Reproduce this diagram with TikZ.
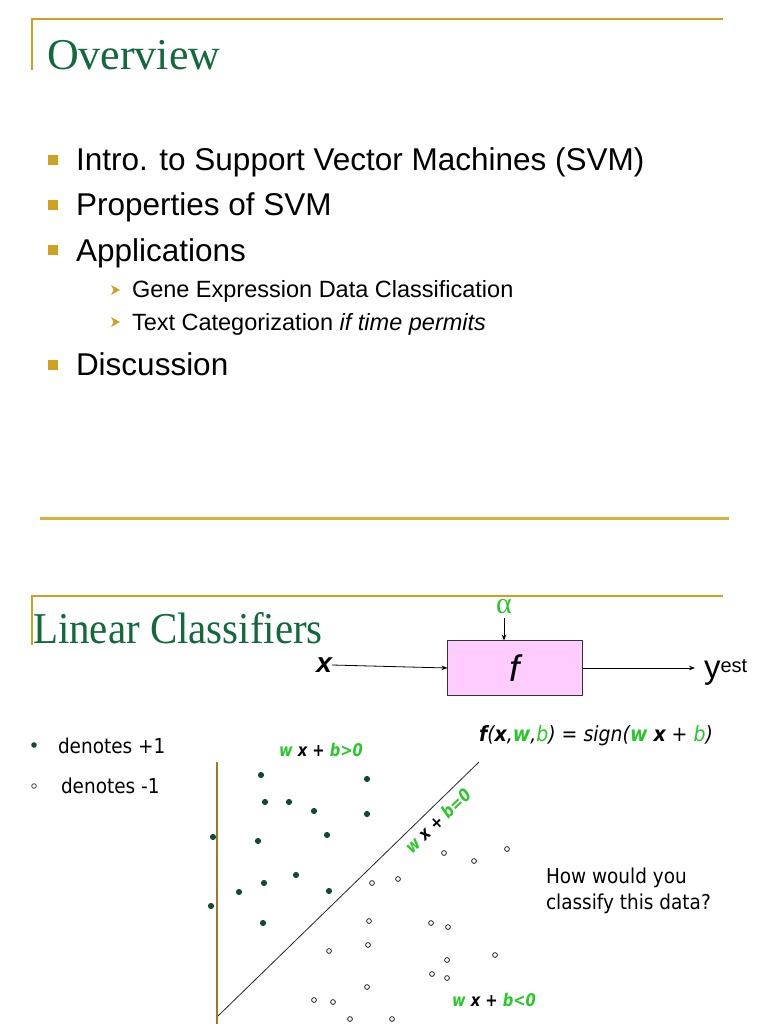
\documentclass[tikz,border=0pt]{standalone}
\usepackage{fontspec}
\setmainfont{Liberation Serif}
\newfontfamily\arial{Liberation Sans}
\newfontfamily\tah[FakeStretch=0.9]{DejaVu Sans}
\newfontfamily\tahb[FakeStretch=0.84]{DejaVu Sans}
\usetikzlibrary{arrows.meta}
\definecolor{gold}{RGB}{208,160,32}
\definecolor{sepc}{RGB}{214,178,58}
\definecolor{ttl}{RGB}{18,105,60}
\definecolor{grn}{RGB}{40,200,40}
\definecolor{dotc}{RGB}{22,72,54}
\definecolor{pinkbox}{RGB}{255,204,255}
\definecolor{brn}{RGB}{168,116,32}
\begin{document}
\begin{tikzpicture}[x=1pt,y=-1pt,
  every node/.style={inner sep=0pt,outer sep=0pt},
  ttlstyle/.style={anchor=base west,text=ttl,font=\fontsize{44}{44}\selectfont},
  bul/.style={anchor=base west,font=\arial\fontsize{31.5}{32}\selectfont},
  subbul/.style={anchor=base west,font=\arial\fontsize{23.5}{24}\selectfont},
  frameline/.style={draw=gold,line width=1.6pt},
  arr/.style={-{Stealth[length=6pt,width=4.5pt]},line width=0.8pt},
  posdot/.style={fill=dotc},
  negdot/.style={draw=black!80,line width=0.85pt,fill=white},
  lbl/.style={font=\tahb\bfseries\itshape\fontsize{17.5}{18}\selectfont},
  plaintxt/.style={anchor=base west,font=\tah\fontsize{20.5}{21}\selectfont}]
\fill[white] (0,0) rectangle (768,1024);
\useasboundingbox (0,0) rectangle (768,1024);
% ---------- slide 1 ----------
\draw[frameline] (32,70) -- (32,19) -- (723,19);
\node[ttlstyle] (ov) at (47,70) {Overview};
\foreach \yy in {160,205,250,365} {\fill[gold] (48,\yy-5) rectangle (58,\yy+5);}
\foreach \yy in {290,322} {\fill[gold] (111,\yy-5) -- (120,\yy) -- (111,\yy+5) -- (113.5,\yy) -- cycle;}
\node[bul] (b1) at (76,171) {Intro. to Support Vector Machines (SVM)};
\node[bul] (b2) at (76,216) {Properties of SVM};
\node[bul] (b3) at (76,261) {Applications};
\node[subbul] (s1) at (132,297) {Gene Expression Data Classification};
\node[subbul] (s2) at (132,330) {Text Categorization \textit{if time permits}};
\node[bul] (b4) at (76,375) {Discussion};
\draw[sepc,line width=3pt] (40,518) -- (729,518);
% ---------- slide 2 ----------
\draw[frameline] (32,645) -- (32,596) -- (723,596);
\node[ttlstyle] (lc) at (33,643) {\scalebox{0.93}[1]{Linear Classifiers}};
\node[draw=black!80,fill=pinkbox,line width=0.8pt,minimum width=135pt,minimum height=55pt] (fbox) at (515,668)
  {\arial\itshape\fontsize{37}{37}\selectfont f};
\node[anchor=east,font=\arial\bfseries\itshape\fontsize{28}{28}\selectfont] (xin) at (332,665) {x};
\node[anchor=base west,font=\arial\fontsize{33}{33}\selectfont] (yest) at (704,678)
  {y\raisebox{6pt}{\fontsize{20}{20}\selectfont est}};
\node[anchor=base,text=grn,font=\fontsize{30}{30}\selectfont] (alpha) at (504,613) {α};
\draw[arr] (xin.east) -- (fbox.west);
\draw[arr,shorten >=9pt] (fbox.east) -- (fbox.east -| yest.west);
\draw[arr,shorten <=5pt] (alpha.base) -- (alpha.base |- fbox.north);
% legend
\fill[dotc] (34,745) circle (2.8);
\node[plaintxt] (l1) at (58,753) {denotes +1};
\draw[black!75,line width=0.8pt] (34,786) circle (2.3);
\node[plaintxt] (l2) at (61,793) {denotes -1};
% plot
\draw[brn,line width=2.8pt] (217,762) -- (217,1024);
\coordinate (d0) at (218,1016);
\coordinate (d1) at (479,762);
\draw[black!85,line width=0.8pt] (d0) -- (d1);
\foreach \p in {(261,775),(367,779),(265,802),(289,802),(314,811),(367,814),(213,837),(258,841),(327,835),(296,875),(264,883),(239,892),(329,891),(211,906),(263,923)}
  {\fill[posdot] \p circle (3.1);}
\foreach \p in {(444,853),(474,861),(507,849),(372,883),(398,879),(369,921),(431,923),(448,927),(329,951),(368,945),(447,960),(495,955),(432,974),(447,978),(367,987),(314,1000),(333,1002),(350,1019),(392,1019)}
  {\draw[negdot] \p circle (2.4);}
\node[lbl] (gt) at (321,750) {\textcolor{grn}{w} x + \textcolor{grn}{b>0}};
\node[lbl] (lt) at (494,1000) {\textcolor{grn}{w} x + \textcolor{grn}{b<0}};
\node[lbl,rotate=44] (eq) at (438,821) {\textcolor{grn}{w} x + \textcolor{grn}{b=0}};
\node[font=\tah\itshape\fontsize{21}{21}\selectfont] (fx) at (596,736)
  {\textbf{f}(\textbf{x},\textcolor{grn}{\textbf{w}},\textcolor{grn}{b}) = sign(\textcolor{grn}{\textbf{w}} \textbf{x} + \textcolor{grn}{b})};
\node[plaintxt] (q1) at (546,883) {How would you};
\node[plaintxt] (q2) at (546,909) {classify this data?};
\end{tikzpicture}
\end{document}
